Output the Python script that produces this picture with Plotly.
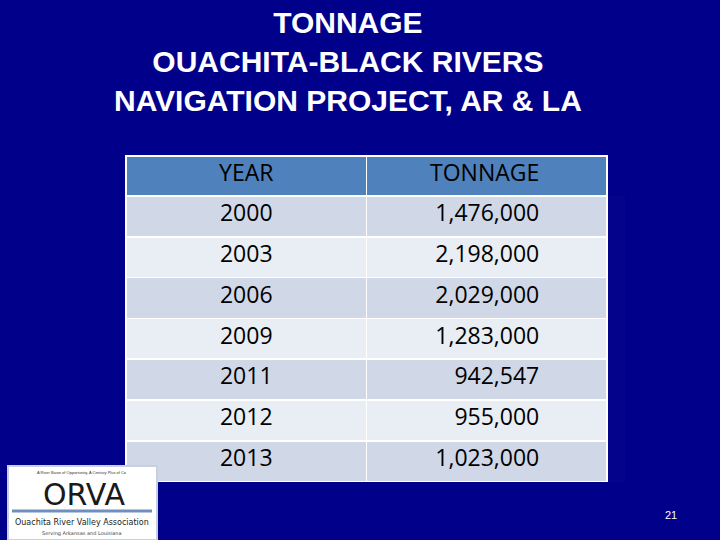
import plotly.graph_objects as go

years = ["2000", "2003", "2006", "2009", "2011", "2012", "2013"]
tonnage = [1476000, 2198000, 2029000, 1283000, 942547, 955000, 1023000]
headers = ["YEAR", "TONNAGE"]

W, H = 720, 540
pad = "\u00a0" * 10
ton_txt = [f"{v:,}" + pad for v in tonnage]
fills = ["#D0D8E8" if i % 2 == 0 else "#E9EDF4" for i in range(len(years))]

fig = go.Figure(go.Table(
    domain=dict(x=[126 / W, 607 / W], y=[1 - 483 / H, 1 - 156 / H]),
    columnwidth=[240, 240],
    header=dict(values=[headers[0], headers[1] + pad], align=["center", "right"],
                fill_color="#4F81BD", line=dict(color="white", width=1.5),
                font=dict(family="Open Sans", size=23, color="black"), height=40),
    cells=dict(values=[years, ton_txt], align=["center", "right"],
               fill_color=[fills, fills], line=dict(color="white", width=1.5),
               font=dict(family="Open Sans", size=23, color="black"), height=40.8),
))

def ann(x, y, text, size, color, family="Liberation Sans", yanchor="middle"):
    fig.add_annotation(x=x / W, y=1 - y / H, xref="paper", yref="paper", showarrow=False,
                       xanchor="center", yanchor=yanchor, text=text, align="center",
                       font=dict(family=family, size=size, color=color))

ann(348, 4, "<b>TONNAGE<br>OUACHITA-BLACK RIVERS<br>NAVIGATION PROJECT, AR &amp; LA</b>",
    30, "white", yanchor="top")
ann(671, 515, "21", 11, "white")

# logo approximation
fig.add_shape(type="rect", xref="paper", yref="paper", x0=8 / W, x1=157 / W, y0=0, y1=1 - 466 / H,
              fillcolor="white", line=dict(color="#C8D0E0", width=2), layer="above")
ann(82, 472, "A River Basin of Opportunity, A Century Plus of Co", 4, "#333")
ann(84, 494, "ORVA", 30, "#1a1a1a", family="DejaVu Sans")
fig.add_shape(type="line", xref="paper", yref="paper", x0=12 / W, x1=152 / W, y0=1 - 511 / H, y1=1 - 511 / H,
              line=dict(color="#6F8FC0", width=3), layer="above")
ann(82, 522, "Ouachita River Valley Association", 8, "#222", family="DejaVu Sans")
ann(82, 533, "Serving Arkansas and Louisiana", 5, "#444", family="DejaVu Sans")

fig.update_layout(width=W, height=H, margin=dict(l=0, r=0, t=0, b=0),
                  paper_bgcolor="#00008B", plot_bgcolor="#00008B")
fig.write_html("out.html", config={"displayModeBar": False},
               post_script="document.body.style.margin='0';document.body.style.overflow='hidden';")
